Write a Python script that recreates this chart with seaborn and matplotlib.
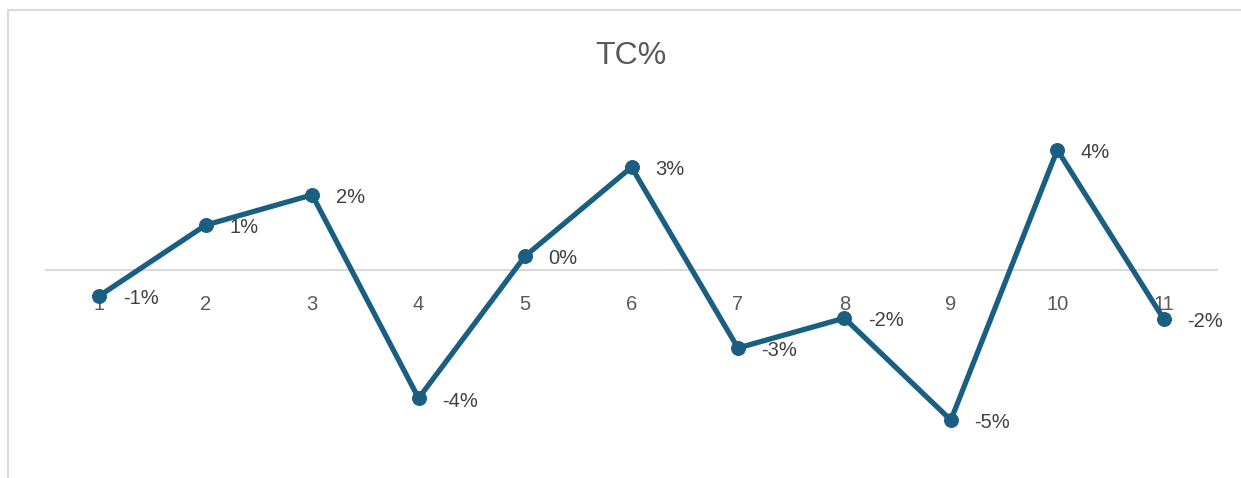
import matplotlib
matplotlib.use("Agg")
import matplotlib.pyplot as plt
import seaborn as sns
import pandas as pd

# values (fractions)
periods = [1, 2, 3, 4, 5, 6, 7, 8, 9, 10, 11]
tc_pct = [-0.0084, 0.0146, 0.0244, -0.0416, 0.0045, 0.0334, -0.0253, -0.0156, -0.0487, 0.039, -0.0159]

line_color = "#1a5f81"

df = pd.DataFrame({"period": periods, "tc": tc_pct})

sns.set_style("white")
plt.rcParams["font.family"] = ["Liberation Sans", "DejaVu Sans"]

fig = plt.figure(figsize=(12.41, 4.78), dpi=100)
ax = fig.add_axes([46 / 1241, 1 - 450 / 478, (1217 - 46) / 1241, 350 / 478])

sns.lineplot(data=df, x="period", y="tc", ax=ax, color=line_color, linewidth=3.8,
             marker="o", markersize=10, markeredgecolor=line_color)

ax.set_xlim(0.5, 11.5)
ax.set_ylim(-0.0584, 0.0552)

# data labels to the right of each point
for x, y in zip(periods, tc_pct):
    ax.annotate(f"{y:.0%}", (x, y), xytext=(17, -2), textcoords="offset points",
                ha="left", va="center", fontsize=14.5, color="#404040")

# category axis sits on the zero line
for side in ["top", "right", "left"]:
    ax.spines[side].set_visible(False)
ax.spines["bottom"].set_position(("data", 0))
ax.spines["bottom"].set_color("#d9d9d9")
ax.spines["bottom"].set_linewidth(1.5)
ax.spines["bottom"].set_zorder(0)
ax.set_xticks(periods)
ax.set_xticklabels([str(p) for p in periods])
ax.tick_params(axis="x", length=0, pad=18, labelsize=14.5, labelcolor="#595959")
ax.set_yticks([])
ax.set_xlabel("")
ax.set_ylabel("")

fig.text(631 / 1241, 1 - 56 / 478, "TC%", ha="center", va="center", fontsize=23, color="#595959")

# chart frame (only top and left edges visible)
fig.add_artist(plt.Line2D([8 / 1241, 1.0], [1 - 10 / 478, 1 - 10 / 478], color="#d9d9d9", linewidth=1.5))
fig.add_artist(plt.Line2D([8 / 1241, 8 / 1241], [0.0, 1 - 10 / 478], color="#d9d9d9", linewidth=1.5))

fig.savefig("out.png", dpi=100)
